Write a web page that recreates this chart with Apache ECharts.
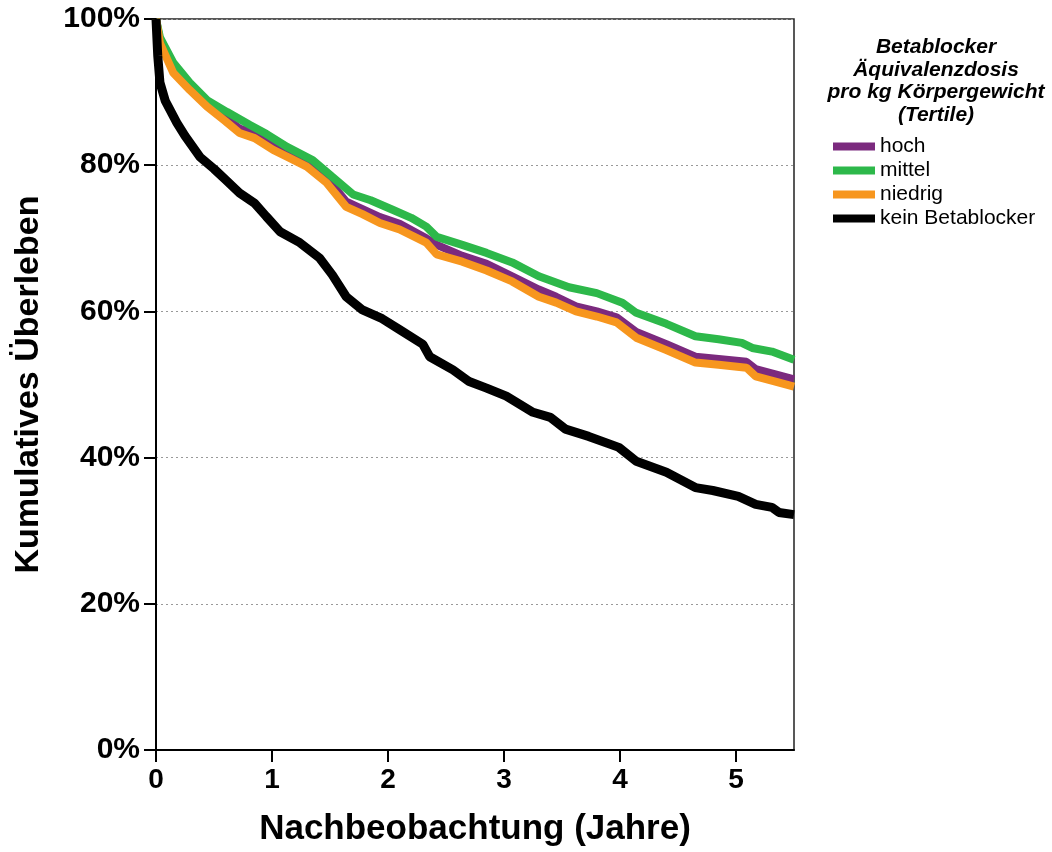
<!DOCTYPE html>
<html>
<head>
<meta charset="utf-8">
<script src="https://cdn.jsdelivr.net/npm/echarts@6/dist/echarts.min.js"></script>
<style>
html,body{margin:0;padding:0;background:#fff;}
#chart{width:1052px;height:852px;}
</style>
</head>
<body>
<div id="chart"></div>
<script>
// Data (time in years, cumulative survival in %)
const seriesNames = ['hoch', 'mittel', 'niedrig', 'kein Betablocker'];
const xTicks = [0, 1, 2, 3, 4, 5];
const yTicks = [0, 20, 40, 60, 80, 100];

const hochT = [0, 0.034, 0.15, 0.29, 0.44, 0.6, 0.72, 0.85, 1.01, 1.15, 1.30, 1.47, 1.64, 1.78, 1.93, 2.1, 2.33, 2.42, 2.64, 2.85, 3.07, 3.3, 3.45, 3.62, 3.8, 3.97, 4.14, 4.4, 4.65, 4.85, 5.09, 5.17, 5.34, 5.5];
const hochV = [100, 97.0, 93.2, 90.8, 88.4, 86.5, 85.0, 84.3, 82.8, 81.8, 80.5, 78.3, 75.0, 74.0, 72.9, 72.0, 70.0, 69.1, 67.6, 66.5, 64.8, 63.0, 62.0, 60.7, 60.0, 59.2, 57.2, 55.5, 53.8, 53.5, 53.1, 52.1, 51.4, 50.7];

const mittelT = [0, 0.034, 0.15, 0.29, 0.44, 0.61, 0.81, 0.95, 1.13, 1.35, 1.52, 1.70, 1.85, 2.04, 2.2, 2.33, 2.42, 2.64, 2.85, 3.07, 3.30, 3.56, 3.8, 4.02, 4.14, 4.4, 4.65, 4.85, 5.05, 5.14, 5.31, 5.5];
const mittelV = [100, 97.5, 94.0, 91.3, 88.9, 87.3, 85.5, 84.3, 82.5, 80.7, 78.4, 76.0, 75.2, 73.9, 72.8, 71.6, 70.2, 69.1, 68.0, 66.7, 64.8, 63.3, 62.5, 61.2, 59.8, 58.3, 56.6, 56.2, 55.7, 55.0, 54.5, 53.4];

const niedrigT = [0, 0.034, 0.15, 0.29, 0.44, 0.6, 0.72, 0.85, 1.01, 1.15, 1.30, 1.47, 1.64, 1.78, 1.93, 2.1, 2.33, 2.42, 2.64, 2.85, 3.07, 3.30, 3.45, 3.62, 3.8, 3.97, 4.14, 4.4, 4.65, 4.85, 5.09, 5.17, 5.34, 5.5];
const niedrigV = [100, 96.7, 92.6, 90.3, 88.0, 86.0, 84.4, 83.7, 82.1, 81.0, 79.8, 77.6, 74.3, 73.3, 72.1, 71.2, 69.4, 67.8, 66.8, 65.6, 64.1, 62.0, 61.2, 60.0, 59.3, 58.5, 56.4, 54.7, 53.0, 52.7, 52.3, 51.1, 50.4, 49.7];

const keinT = [0, 0.015, 0.034, 0.08, 0.18, 0.25, 0.38, 0.5, 0.6, 0.72, 0.85, 0.95, 1.07, 1.24, 1.41, 1.52, 1.64, 1.78, 1.95, 2.10, 2.3, 2.36, 2.56, 2.70, 2.85, 3.02, 3.25, 3.4, 3.53, 3.73, 3.99, 4.14, 4.40, 4.65, 4.8, 5.02, 5.17, 5.31, 5.37, 5.5];
const keinV = [100, 95.0, 91.3, 88.8, 85.8, 84.0, 81.1, 79.5, 78.0, 76.2, 74.8, 73.0, 70.9, 69.4, 67.3, 65.0, 62.0, 60.2, 59.0, 57.5, 55.5, 53.8, 52.0, 50.4, 49.5, 48.4, 46.2, 45.5, 43.9, 42.9, 41.4, 39.5, 38.0, 35.9, 35.5, 34.7, 33.6, 33.2, 32.5, 32.2];

const colors = ['#7B2A7E', '#2DB84A', '#F7961E', '#000000'];

function pairs(t, v) { return t.map((x, i) => [x, v[i]]); }

const font = "'Liberation Sans', Arial, sans-serif";

const chart = echarts.init(document.getElementById('chart'), null, {renderer: 'canvas'});

function lineSeries(name, data, color, width, z) {
  return {
    name: name, type: 'line', data: data, showSymbol: false, symbol: 'none',
    lineStyle: {color: color, width: width}, itemStyle: {color: color},
    z: z, animation: false, clip: true
  };
}

chart.setOption({
  animation: false,
  backgroundColor: '#fff',
  title: {
    text: 'Betablocker\nÄquivalenzdosis\npro kg Körpergewicht\n(Tertile)',
    left: 931, top: 31, textAlign: 'center',
    textStyle: {fontFamily: font, fontWeight: 'bold', fontStyle: 'italic', fontSize: 21, lineHeight: 22.5, color: '#000'}
  },
  legend: {
    orient: 'vertical', left: 828, top: 131,
    itemWidth: 42, itemHeight: 8, itemGap: 3,
    icon: 'rect',
    data: seriesNames,
    textStyle: {fontFamily: font, fontSize: 21, lineHeight: 21, color: '#000', padding: [0, 0, 0, 0]}
  },
  grid: {left: 156, right: 258, top: 19, bottom: 101, show: true, borderColor: '#222', borderWidth: 1.5, containLabel: false},
  xAxis: {
    type: 'value', min: 0, max: 5.5, interval: 1,
    name: 'Nachbeobachtung (Jahre)', nameLocation: 'middle', nameGap: 62,
    nameTextStyle: {fontFamily: font, fontWeight: 'bold', fontSize: 35, color: '#000'},
    axisLine: {show: true, onZero: false, lineStyle: {color: '#000', width: 2}},
    axisTick: {show: true, inside: false, length: 12, lineStyle: {color: '#000', width: 2}},
    axisLabel: {show: true, showMaxLabel: false, margin: 16, fontFamily: font, fontWeight: 'bold', fontSize: 28, color: '#000',
      formatter: v => (xTicks.indexOf(v) >= 0 ? String(v) : '')},
    splitLine: {show: false}
  },
  yAxis: {
    type: 'value', min: 0, max: 100, interval: 20,
    name: 'Kumulatives Überleben', nameLocation: 'middle', nameGap: 110, nameRotate: 90,
    nameTextStyle: {fontFamily: font, fontWeight: 'bold', fontSize: 34, color: '#000'},
    axisLine: {show: true, lineStyle: {color: '#000', width: 2}},
    axisTick: {show: true, inside: false, length: 12, lineStyle: {color: '#000', width: 2}},
    axisLabel: {margin: 16, fontFamily: font, fontWeight: 'bold', fontSize: 30, color: '#000',
      formatter: v => (yTicks.indexOf(v) >= 0 ? v + '%' : '')},
    splitLine: {show: true, lineStyle: {color: '#999', type: [2, 3], width: 1}}
  },
  series: [
    lineSeries(seriesNames[0], pairs(hochT, hochV), colors[0], 8, 2),
    lineSeries(seriesNames[1], pairs(mittelT, mittelV), colors[1], 8, 3),
    lineSeries(seriesNames[2], pairs(niedrigT, niedrigV), colors[2], 8, 4),
    lineSeries(seriesNames[3], pairs(keinT, keinV), colors[3], 9, 5)
  ]
});
</script>
</body>
</html>
